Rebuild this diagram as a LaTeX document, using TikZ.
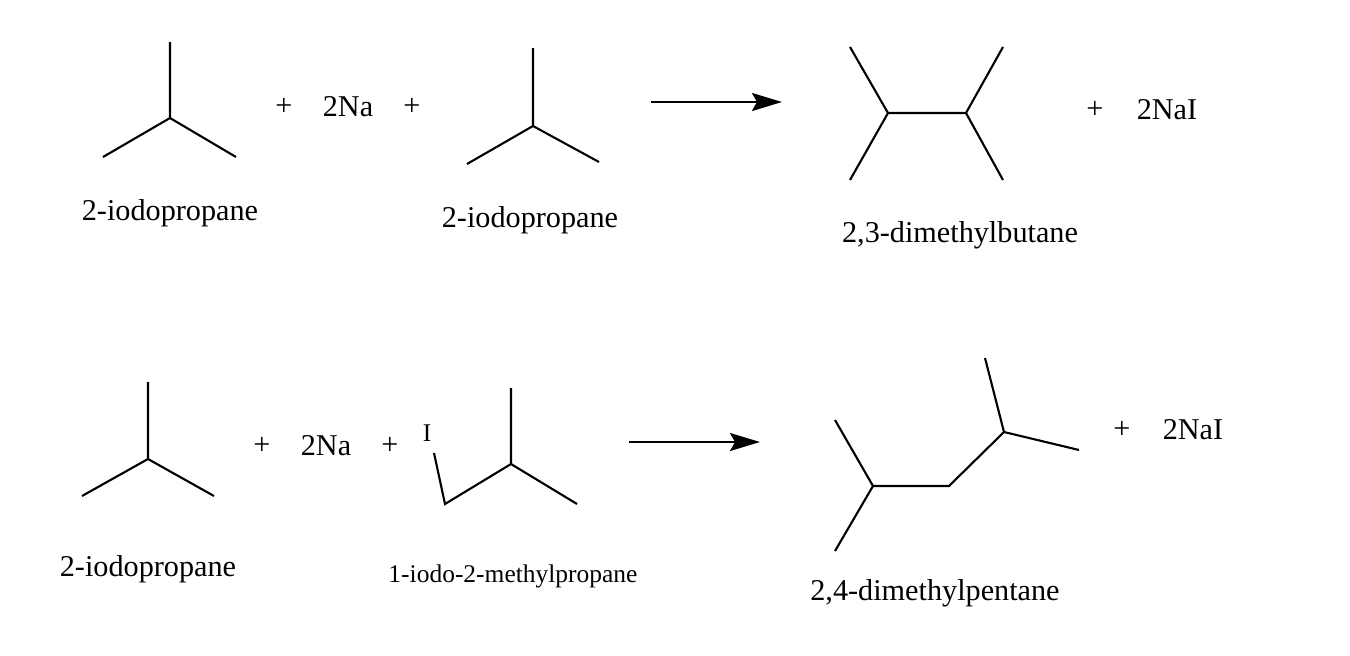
\documentclass[tikz,border=0pt]{standalone}
\usepackage{fontspec}
\setmainfont{Liberation Serif}
\usetikzlibrary{arrows.meta,positioning}
\begin{document}
\begin{tikzpicture}[x=0.02cm,y=-0.02cm, bond/.style = {draw, line width=1.2pt}, line/.style = {draw, line width=1.3pt, -{Stealth[length=0.6cm,width=0.36cm,inset=0.1cm]}}, molname/.style = {font=\fontsize{17.2}{19}\selectfont}, small/.style = {font=\fontsize{14.5}{16}\selectfont}, sign/.style = {font=\fontsize{17.2}{19}\selectfont}]
\useasboundingbox (0,0) rectangle (1350,656);
% first reaction
\coordinate (a1) at (170,42); \coordinate (a0) at (170,118);
\coordinate (a2) at (103,157); \coordinate (a3) at (236,157);
\path[bond] (a1) -- (a0) -- (a2) (a0) -- (a3);
\node[molname] (la) at (170,213) {2-iodopropane};
\node[sign] (p1) at (284,107) {+};
\node[sign] (na1) at (348,107) {2Na};
\node[sign] (p2) at (412,107) {+};
\coordinate (b1) at (533,48); \coordinate (b0) at (533,126);
\coordinate (b2) at (467,164); \coordinate (b3) at (599,162);
\path[bond] (b1) -- (b0) -- (b2) (b0) -- (b3);
\node[molname] (lb) at (530,220) {2-iodopropane};
\coordinate (r1s) at (651,102); \coordinate (r1e) at (782,102);
\path[line] (r1s) -- (r1e);
\coordinate (c1) at (888,113); \coordinate (c2) at (966,113);
\coordinate (c3) at (850,47); \coordinate (c4) at (850,180);
\coordinate (c5) at (1003,47); \coordinate (c6) at (1003,180);
\path[bond] (c3) -- (c1) -- (c4) (c1) -- (c2) (c5) -- (c2) -- (c6);
\node[molname] (lc) at (960,235) {2,3-dimethylbutane};
\node[sign] (p3) at (1095,110) {+};
\node[sign] (nai1) at (1167,110) {2NaI};
% second reaction
\coordinate (d1) at (148,382); \coordinate (d0) at (148,459);
\coordinate (d2) at (82,496); \coordinate (d3) at (214,496);
\path[bond] (d1) -- (d0) -- (d2) (d0) -- (d3);
\node[molname] (ld) at (148,569) {2-iodopropane};
\node[sign] (p4) at (262,446) {+};
\node[sign] (na2) at (326,446) {2Na};
\node[sign] (p5) at (390,446) {+};
\node[small] (iod) at (427,433) {I};
\coordinate (e1) at (434,453); \coordinate (e2) at (445,504);
\coordinate (e0) at (511,464); \coordinate (e3) at (511,388);
\coordinate (e4) at (577,504);
\path[bond] (e1) -- (e2) -- (e0) -- (e3) (e0) -- (e4);
\node[small] (le) at (513,576) {1-iodo-2-methylpropane};
\coordinate (r2s) at (629,442); \coordinate (r2e) at (760,442);
\path[line] (r2s) -- (r2e);
\coordinate (f1) at (835,420); \coordinate (f2) at (873,486);
\coordinate (f3) at (835,551); \coordinate (f4) at (949,486);
\coordinate (f5) at (1004,432); \coordinate (f6) at (985,358);
\coordinate (f7) at (1079,450);
\path[bond] (f1) -- (f2) -- (f3) (f2) -- (f4) -- (f5) -- (f6) (f5) -- (f7);
\node[molname] (lf) at (935,593) {2,4-dimethylpentane};
\node[sign] (p6) at (1122,430) {+};
\node[sign] (nai2) at (1193,430) {2NaI};
\end{tikzpicture}
\end{document}
